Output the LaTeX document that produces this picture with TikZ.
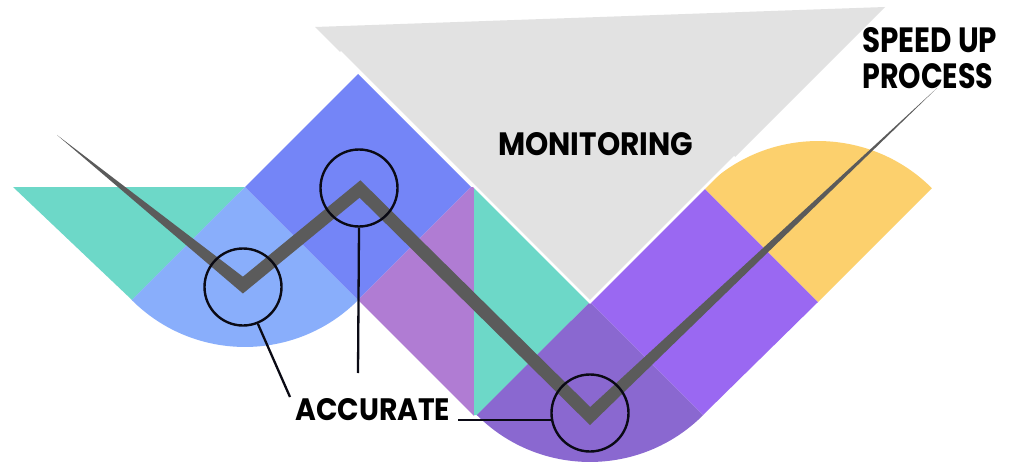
\documentclass[tikz,border=0pt]{standalone}
\usepackage{fontspec}
\newfontfamily\lblfont{Poppins}
\definecolor{grayT}{HTML}{E2E2E2}
\definecolor{tealc}{HTML}{6DD8C8}
\definecolor{lblue}{HTML}{89AEFB}
\definecolor{dblue}{HTML}{7485F7}
\definecolor{mauve}{HTML}{B07CD3}
\definecolor{lpurple}{HTML}{9A68F2}
\definecolor{dpurple}{HTML}{8A68D0}
\definecolor{yell}{HTML}{FCD06D}
\definecolor{pathgray}{HTML}{5B5B5B}
\definecolor{ringc}{HTML}{0A0A14}
\tikzset{
  lbl/.style={inner sep=0pt, anchor=north west, font=\lblfont\bfseries},
  ring/.style={circle, draw=ringc, line width=2.4pt, minimum size=77pt, inner sep=0pt},
  lead/.style={draw=ringc, line width=2.3pt},
  gap/.style={white, line width=2.5pt}
}
\begin{document}
\begin{tikzpicture}[x=1pt,y=-1pt]
\useasboundingbox (0,0) rectangle (1024,465);
\fill[white] (0,0) rectangle (1024,465);
% background shapes
\fill[grayT] (315,27) -- (885,7) -- (590,302) -- cycle;
\fill[tealc] (13,187) -- (245,187) -- (132,300) -- cycle;
\fill[lblue] (245,187) -- (358.1,300.1) arc[start angle=45,end angle=135,radius=160] -- cycle;
\fill[dblue] (358,74) -- (471,187) -- (358,300) -- (245,187) -- cycle;
\fill[mauve] (358,300) -- (471,187) -- (474,187) -- (474,416) -- cycle;
\fill[tealc] (474,186) -- (590,302) -- (477,415) -- (474,415) -- cycle;
\fill[dpurple] (590,302) -- (703.1,415.1) arc[start angle=45,end angle=135,radius=160] -- cycle;
\fill[lpurple] (590,302) -- (704,188) -- (818,302) -- (703,415) -- cycle;
\fill[yell] (818,302) -- (704.2,188.2) arc[start angle=225,end angle=315,radius=161] -- cycle;
\draw[gap] (340,52) -- (590,302) -- (735,157);
% zigzag path
\fill[pathgray] (57,135) -- (242.9,276.7) -- (360.4,180.3) -- (590.2,407.0) -- (937,88)
  -- (590.0,425.1) -- (359.6,197.7) -- (242.9,293.5) -- cycle;
% rings
\node[ring] (c1) at (243,287) {};
\node[ring] (c2) at (359,188) {};
\node[ring] (c3) at (590,413) {};
% labels
\node[lbl] (mon) at (498,132) {\resizebox{195pt}{23pt}{MONITORING}};
\node[lbl] (spd) at (862,27) {\resizebox{135pt}{25pt}{SPEED UP}};
\node[lbl] (prc) at (862,63) {\resizebox{131pt}{25pt}{PROCESS}};
\node[lbl] (acc) at (295,398) {\resizebox{155pt}{22pt}{ACCURATE}};
% leaders
\coordinate (e1) at (290,397);
\coordinate (e2) at (358,373);
\coordinate (e3) at (458,420);
\draw[lead] (c1.-68) -- (e1);
\draw[lead] (c2.south) -- (e2);
\draw[lead] (e3) -- (e3 -| c3.190);
\end{tikzpicture}
\end{document}
